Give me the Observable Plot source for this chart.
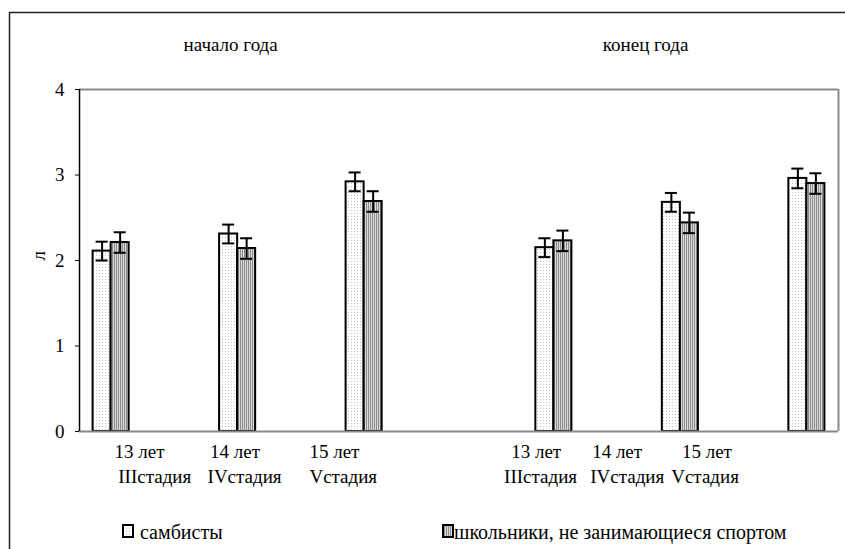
<!DOCTYPE html>
<html>
<head>
<meta charset="utf-8">
<script src="https://cdn.jsdelivr.net/npm/d3@7"></script>
<script src="https://cdn.jsdelivr.net/npm/@observablehq/plot@0.6"></script>
<style>
  html, body { margin: 0; padding: 0; background: white; }
  #chart svg { display: block; }
</style>
</head>
<body>
<div id="chart"></div>
<script>
// ---- data ----
const panels = ["начало года", "конец года"];
const panelTitlePos = [2.39, 8.95];                 // slot units along the 12-slot axis
const groupSlot = [0, 2, 4, 7, 9, 11];               // slot index of each bar pair
const sambisty = [2.11, 2.31, 2.92, 2.15, 2.68, 2.96];
const sambistyErr = [0.11, 0.11, 0.11, 0.11, 0.11, 0.115];
const school = [2.21, 2.14, 2.69, 2.23, 2.44, 2.90];
const schoolErr = [0.12, 0.12, 0.12, 0.12, 0.12, 0.12];
const seriesNames = ["самбисты", "школьники, не занимающиеся спортом"];
const tickLine1 = ["13 лет", "14 лет", "15 лет", "13 лет", "14 лет", "15 лет"];
const tickLine1Pos = [0.95, 2.46, 4.03, 7.22, 8.50, 9.92];
const tickLine2 = ["IIIстадия", "IVстадия", "Vстадия", "IIIстадия", "IVстадия", "Vстадия"];
const tickLine2Pos = [1.19, 2.61, 4.17, 7.29, 8.66, 9.89];
const yTicks = [0, 1, 2, 3, 4];
const yLabel = "л";

// ---- build tables ----
const BW = 0.285;   // bar width in slot units
const CAP = 0.095;  // half cap width in slot units
const bars = [];
groupSlot.forEach((s, i) => {
  const c = s + 0.5;
  bars.push({series: 0, x1: c - BW, x2: c, v: sambisty[i], e: sambistyErr[i]});
  bars.push({series: 1, x1: c, x2: c + BW, v: school[i], e: schoolErr[i]});
});
bars.forEach(d => d.cx = (d.x1 + d.x2) / 2);
const ticks1 = tickLine1.map((t, i) => ({t, x: tickLine1Pos[i]}));
const ticks2 = tickLine2.map((t, i) => ({t, x: tickLine2Pos[i]}));
const titles = panels.map((t, i) => ({t, x: panelTitlePos[i]}));

const font = "Liberation Serif";
const FS = 19;
const txt = {fontSize: FS, fontFamily: font};

const chart = Plot.plot({
  width: 845,
  height: 549,
  marginLeft: 79,
  marginRight: 7,
  marginTop: 89,
  marginBottom: 118,
  style: {fontFamily: font, fontSize: FS + "px", color: "black", background: "white", overflow: "visible"},
  x: {type: "linear", domain: [0, 12], axis: null},
  y: {domain: [0, 4], axis: null},
  marks: [
    Plot.ruleY([4], {stroke: "#8a8a8a", strokeWidth: 2}),
    Plot.ruleX([12], {stroke: "#8a8a8a", strokeWidth: 2}),
    Plot.rectY(bars.filter(d => d.series === 0), {x1: "x1", x2: "x2", y1: 0, y2: "v", fill: "url(#dots)", stroke: "black", strokeWidth: 2}),
    Plot.rectY(bars.filter(d => d.series === 1), {x1: "x1", x2: "x2", y1: 0, y2: "v", fill: "url(#stripes)", stroke: "black", strokeWidth: 2}),
    Plot.ruleY([0], {stroke: "#8a8a8a", strokeWidth: 2}),
    Plot.ruleX([0], {stroke: "black", strokeWidth: 1.5}),
    Plot.ruleX(bars, {x: "cx", y1: d => d.v - d.e, y2: d => d.v + d.e, stroke: "black", strokeWidth: 2}),
    Plot.ruleY(bars, {x1: d => d.cx - CAP, x2: d => d.cx + CAP, y: d => d.v + d.e, stroke: "black", strokeWidth: 2}),
    Plot.ruleY(bars, {x1: d => d.cx - CAP, x2: d => d.cx + CAP, y: d => d.v - d.e, stroke: "black", strokeWidth: 2}),
    Plot.axisY({ticks: yTicks, tickSize: 4, tickPadding: 11, tickFormat: d => d, label: null, ...txt}),
    Plot.text([yLabel], {frameAnchor: "left", dx: -41, rotate: -90, ...txt}),
    Plot.text(ticks1, {x: "x", text: "t", frameAnchor: "bottom", dy: 26, ...txt}),
    Plot.text(ticks2, {x: "x", text: "t", frameAnchor: "bottom", dy: 51, ...txt}),
    Plot.text(titles, {x: "x", text: "t", frameAnchor: "top", dy: -52, ...txt})
  ]
});

document.getElementById("chart").appendChild(chart);

// patterns, outer border, legend
const svg = d3.select(chart);
const defs = svg.insert("defs", ":first-child");
const pd = defs.append("pattern").attr("id", "dots").attr("patternUnits", "userSpaceOnUse").attr("width", 3).attr("height", 3);
pd.append("rect").attr("width", 3).attr("height", 3).attr("fill", "white");
pd.append("rect").attr("width", 1).attr("height", 1).attr("fill", "#c4c4c4");
const ps = defs.append("pattern").attr("id", "stripes").attr("patternUnits", "userSpaceOnUse").attr("width", 2).attr("height", 2);
ps.append("rect").attr("width", 2).attr("height", 2).attr("fill", "#dadada");
ps.append("rect").attr("width", 1).attr("height", 2).attr("fill", "#8c8c8c");

// force the serif face on every Plot text element
svg.selectAll("text")
  .attr("font-family", font)
  .style("font-family", "'Liberation Serif'")
  .style("font-size", FS + "px");

svg.append("path").attr("d", "M9.5,549V12.5H845").attr("fill", "none").attr("stroke", "#222").attr("stroke-width", 1.5);

const legend = svg.append("g").attr("text-anchor", "start");
const legendItems = [
  {x: 122, tx: 140, fill: "url(#dots)", text: seriesNames[0]},
  {x: 442, tx: 454, fill: "url(#stripes)", text: seriesNames[1]}
];
legendItems.forEach(it => {
  legend.append("rect").attr("x", it.x + 1).attr("y", 525).attr("width", 10).attr("height", 12)
    .attr("fill", it.fill).attr("stroke", "black").attr("stroke-width", 2);
  legend.append("text").attr("x", it.tx).attr("y", 532).attr("dy", "0.35em").attr("fill", "black")
    .style("font-family", "'Liberation Serif'").style("font-size", "20px").text(it.text);
});
</script>
</body>
</html>
